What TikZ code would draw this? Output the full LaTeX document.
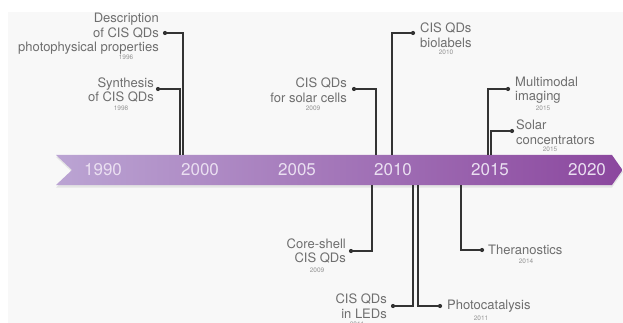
\documentclass[tikz,border=0pt]{standalone}
\usepackage{fontspec}
\setmainfont{TeX Gyre Heros}
\definecolor{bgc}{HTML}{F8F8F8}
\definecolor{linec}{HTML}{333333}
\definecolor{labc}{HTML}{6E6E6E}
\definecolor{yrc}{HTML}{959595}
\definecolor{bandl}{HTML}{BBA4D3}
\definecolor{bandr}{HTML}{8B479E}
\definecolor{bandtxt}{HTML}{EADFF1}
\tikzset{
  dot/.style={circle,fill=linec,inner sep=0pt,minimum size=4.2pt},
  conn/.style={draw=linec,line width=1.4pt},
  lab/.style={text=labc,inner sep=0pt,font=\fontsize{13}{14.5}\selectfont},
  yr/.style={text=yrc,inner sep=0pt,font=\fontsize{6.5}{7}\selectfont},
  byr/.style={text=bandtxt,inner sep=0pt,font=\fontsize{17}{18}\selectfont},
}
\begin{document}
\begin{tikzpicture}[x=1pt,y=-1pt]
\useasboundingbox (0,0) rectangle (623,323);
\fill[white] (0,0) rectangle (623,323);
\fill[bgc] (8,12) rectangle (623,323);
% band shadow
\fill[black,opacity=0.08] (56,157) -- (612,157) -- (623,172) -- (612,187.5) -- (56,187.5) -- (72,172) -- cycle;
% band
\shade[left color=bandl,right color=bandr] (56,155) -- (612,155) -- (622.5,170) -- (612,185) -- (56,185) -- (72,170) -- cycle;
\node[byr] (y1990) at (103,170) {1990};
\node[byr] (y2000) at (200,170) {2000};
\node[byr] (y2005) at (297,170) {2005};
\node[byr] (y2010) at (393,170) {2010};
\node[byr] (y2015) at (490,170) {2015};
\node[byr] (y2020) at (587,170) {2020};
% band attachment points
\coordinate (t1) at (183,155);
\coordinate (t2) at (180,155);
\coordinate (t3) at (376,155);
\coordinate (t4) at (392,155);
\coordinate (t5) at (488,155);
\coordinate (t6) at (491,155);
\coordinate (b7) at (372,185);
\coordinate (b8) at (413,185);
\coordinate (b9) at (418,185);
\coordinate (b10) at (461,185);
% dots
\node[dot] (d1) at (165,33) {};
\node[dot] (d2) at (158,89) {};
\node[dot] (d3) at (354,89) {};
\node[dot] (d4) at (413,33) {};
\node[dot] (d5) at (508,89) {};
\node[dot] (d6) at (512,131) {};
\node[dot] (d7) at (351,251) {};
\node[dot] (d8) at (393,306) {};
\node[dot] (d9) at (440,306) {};
\node[dot] (d10) at (482,250) {};
% connectors
\draw[conn] (d1) -| (t1);
\draw[conn] (d2) -| (t2);
\draw[conn] (d3) -| (t3);
\draw[conn] (d4) -| (t4);
\draw[conn] (d5) -| (t5);
\draw[conn] (d6) -| (t6);
\draw[conn] (d7) -| (b7);
\draw[conn] (d8) -| (b8);
\draw[conn] (d9) -| (b9);
\draw[conn] (d10) -| (b10);
% labels
\node[lab,anchor=east,align=right] (l1) at (159,34) {Description\\of CIS QDs\\photophysical properties};
\node[yr] (n1) at (126,57) {1996};
\node[lab,anchor=east,align=right] (l2) at (154,90) {Synthesis\\of CIS QDs};
\node[yr] (n2) at (121,108) {1998};
\node[lab,anchor=east,align=right] (l3) at (347,90) {CIS QDs\\for solar cells};
\node[yr] (n3) at (313,108) {2009};
\node[lab,anchor=west,align=left] (l4) at (420,35) {CIS QDs\\biolabels};
\node[yr] (n4) at (446,52) {2010};
\node[lab,anchor=west,align=left] (l5) at (515,90) {Multimodal\\imaging};
\node[yr] (n5) at (543,108) {2015};
\node[lab,anchor=west,align=left] (l6) at (516,132) {Solar\\concentrators};
\node[yr] (n6) at (550,149) {2015};
\node[lab,anchor=east,align=right] (l7) at (346,251) {Core-shell\\CIS QDs};
\node[yr] (n7) at (317,270) {2009};
\node[lab,anchor=east,align=right] (l8) at (387,306) {CIS QDs\\in LEDs};
\node[yr] (n8) at (357,324) {2011};
\node[lab,anchor=west] (l9) at (447,306) {Photocatalysis};
\node[yr] (n9) at (481,318) {2011};
\node[lab,anchor=west] (l10) at (488,250) {Theranostics};
\node[yr] (n10) at (526,261) {2014};
\end{tikzpicture}
\end{document}
